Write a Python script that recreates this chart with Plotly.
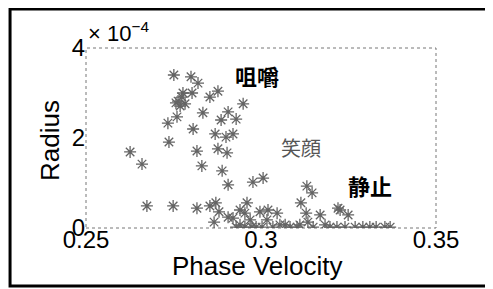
import plotly.graph_objects as go

# Phase velocity (x) and radius (y, in units of 1e-4)
phase_velocity = [
    0.2751, 0.2800, 0.2820, 0.2877, 0.2854, 0.2777, 0.2774, 0.2763, 0.2757, 0.2769,
    0.2783, 0.2803, 0.2949, 0.2834, 0.2906, 0.2886, 0.2929, 0.2760, 0.2734, 0.2806,
    0.2869, 0.2900, 0.2920, 0.2737, 0.2626, 0.2660, 0.2817, 0.2831, 0.2889, 0.2877,
    0.2903, 0.2906, 0.2674, 0.2749, 0.2817, 0.2854, 0.2871, 0.2880, 0.2866, 0.2977,
    0.3006, 0.3131, 0.3146, 0.2960, 0.2954, 0.2920, 0.2906, 0.2969, 0.2974, 0.3020,
    0.3046, 0.3017, 0.3054, 0.3034, 0.3114, 0.3129, 0.3134, 0.3149, 0.3169, 0.3103,
    0.3111, 0.3220, 0.3226, 0.3249, 0.2929, 0.2954, 0.2986, 0.3003, 0.3083, 0.3197,
    0.3217, 0.3240, 0.3269, 0.3291, 0.3311, 0.3329, 0.3354, 0.3369, 0.2940, 0.3069,
    0.3183, 0.2940, 0.2997,
]
radius_e4 = [
    3.40, 3.36, 3.22, 3.04, 2.91, 3.00, 2.91, 2.82, 2.78, 2.71,
    2.76, 3.00, 2.76, 2.56, 2.58, 2.40, 2.42, 2.47, 2.33, 2.20,
    2.09, 2.02, 2.09, 1.91, 1.69, 1.42, 1.71, 1.38, 1.27, 1.76,
    1.67, 0.96, 0.49, 0.49, 0.44, 0.49, 0.56, 0.36, 0.13, 1.02,
    1.11, 0.93, 0.78, 0.56, 0.33, 0.22, 0.24, 0.18, 0.02, 0.40,
    0.33, 0.18, 0.07, 0.02, 0.56, 0.33, 0.13, 0.02, 0.29, 0.02,
    0.07, 0.44, 0.40, 0.29, 0.02, 0.02, 0.02, 0.02, 0.02, 0.02,
    0.02, 0.02, 0.02, 0.02, 0.02, 0.02, 0.02, 0.02, 0.07, 0.07,
    0.07, 0.40, 0.36,
]
radius = [r * 1e-4 for r in radius_e4]

x_ticks = [0.25, 0.3, 0.35]
x_tick_text = ["0.25", "0.3", "0.35"]
y_ticks = [0, 2e-4, 4e-4]
y_tick_text = ["0", "2", "4"]

labels = ["咀嚼", "笑顔", "静止"]
label_x = [0.2989, 0.3114, 0.3311]
label_y = [3.40e-4, 1.80e-4, 0.96e-4]

FONT = "Liberation Sans, Arial, Helvetica, sans-serif"
CJK = "Noto Sans CJK JP, Noto Sans CJK SC, sans-serif"

fig = go.Figure()
fig.add_trace(go.Scatter(
    x=phase_velocity, y=radius, mode="markers",
    marker=dict(symbol="asterisk-open", size=10, color="#4a4a4a",
                line=dict(color="#4a4a4a", width=1.3)),
    opacity=0.85, showlegend=False, hoverinfo="skip",
))

fig.update_layout(
    width=493, height=289,
    margin=dict(l=78, r=65, t=40, b=69, autoexpand=False),
    paper_bgcolor="white", plot_bgcolor="white",
    font=dict(family=FONT, color="black"),
    xaxis=dict(
        range=[0.25, 0.35], tickvals=x_ticks, ticktext=x_tick_text,
        showgrid=False, zeroline=False, showline=False, ticks="",
        tickfont=dict(size=24), ticklabelstandoff=-5, automargin=False,
    ),
    yaxis=dict(
        range=[0, 4e-4], tickvals=y_ticks, ticktext=y_tick_text,
        showgrid=False, zeroline=False, showline=False, ticks="",
        tickfont=dict(size=24), ticklabelstandoff=0, automargin=False,
    ),
    shapes=[
        dict(type="rect", xref="paper", yref="paper", x0=0, x1=1, y0=0, y1=1,
             line=dict(color="#777777", width=1, dash="dot"), layer="below"),
        dict(type="rect", xref="paper", yref="paper",
             x0=-0.217, x1=1.157, y0=-0.322, y1=1.217,
             line=dict(color="black", width=3)),
    ],
)

for t, lx, ly, bold, col, sz in zip(labels, label_x, label_y,
                                    [True, False, True],
                                    ["black", "#555555", "black"],
                                    [22, 20, 22]):
    fig.add_annotation(
        x=lx, y=ly, xref="x", yref="y", showarrow=False,
        text=f"<b>{t}</b>" if bold else t,
        font=dict(family=CJK, size=sz, color=col),
    )

# axis titles
fig.add_annotation(
    x=0.491, y=-0.211, xref="paper", yref="paper", showarrow=False,
    xanchor="center", yanchor="middle",
    text="Phase Velocity", font=dict(family=FONT, size=26, color="black"),
)
fig.add_annotation(
    x=-0.103, y=0.489, xref="paper", yref="paper", showarrow=False,
    xanchor="center", yanchor="middle",
    textangle=-90, text="Radius", font=dict(family=FONT, size=26, color="black"),
)

fig.add_annotation(
    x=0, y=1, xref="paper", yref="paper", xanchor="left", yanchor="bottom",
    yshift=0, xshift=0, showarrow=False,
    text="× 10<sup>−4</sup>", font=dict(family=FONT, size=22, color="black"),
)

fig.write_html("out.html")
